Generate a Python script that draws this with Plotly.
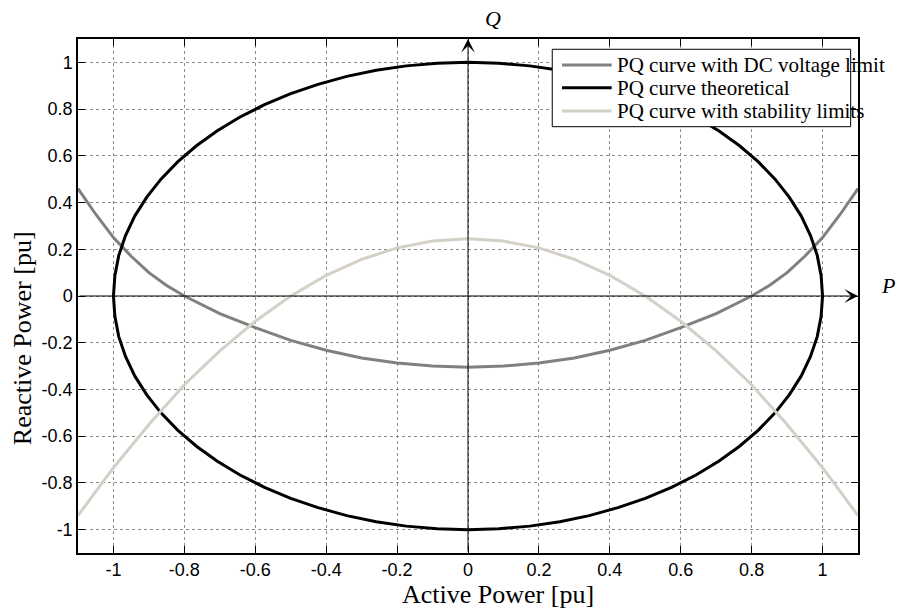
import plotly.graph_objects as go

# ---- data ----
tick_vals = [-1.0, -0.8, -0.6, -0.4, -0.2, 0.0, 0.2, 0.4, 0.6, 0.8, 1.0]
tick_text = ["-1", "-0.8", "-0.6", "-0.4", "-0.2", "0", "0.2", "0.4", "0.6", "0.8", "1"]

# PQ curve with DC voltage limit
P_dc = [-1.1, -1.05, -1.0, -0.95, -0.9, -0.85, -0.8, -0.7, -0.6, -0.5, -0.4, -0.3, -0.2, -0.1, 0.0,
        0.1, 0.2, 0.3, 0.4, 0.5, 0.6, 0.7, 0.8, 0.85, 0.9, 0.95, 1.0, 1.05, 1.1]
Q_dc = [0.46, 0.35, 0.25, 0.17, 0.10, 0.045, 0.0, -0.075, -0.135, -0.19, -0.232, -0.265, -0.287, -0.30, -0.305,
        -0.30, -0.287, -0.265, -0.232, -0.19, -0.135, -0.075, 0.0, 0.045, 0.10, 0.17, 0.25, 0.35, 0.46]

# PQ curve theoretical (unit circle)
P_th = [1.0, 0.996, 0.985, 0.966, 0.94, 0.906, 0.866, 0.819, 0.766, 0.707, 0.643, 0.574, 0.5, 0.423,
        0.342, 0.259, 0.174, 0.087, 0.0, -0.087, -0.174, -0.259, -0.342, -0.423, -0.5, -0.574, -0.643,
        -0.707, -0.766, -0.819, -0.866, -0.906, -0.94, -0.966, -0.985, -0.996, -1.0,
        -0.996, -0.985, -0.966, -0.94, -0.906, -0.866, -0.819, -0.766, -0.707, -0.643, -0.574, -0.5,
        -0.423, -0.342, -0.259, -0.174, -0.087, 0.0, 0.087, 0.174, 0.259, 0.342, 0.423, 0.5, 0.574,
        0.643, 0.707, 0.766, 0.819, 0.866, 0.906, 0.94, 0.966, 0.985, 0.996, 1.0]
Q_th = [0.0, 0.087, 0.174, 0.259, 0.342, 0.423, 0.5, 0.574, 0.643, 0.707, 0.766, 0.819, 0.866, 0.906,
        0.94, 0.966, 0.985, 0.996, 1.0, 0.996, 0.985, 0.966, 0.94, 0.906, 0.866, 0.819, 0.766,
        0.707, 0.643, 0.574, 0.5, 0.423, 0.342, 0.259, 0.174, 0.087, 0.0,
        -0.087, -0.174, -0.259, -0.342, -0.423, -0.5, -0.574, -0.643, -0.707, -0.766, -0.819, -0.866,
        -0.906, -0.94, -0.966, -0.985, -0.996, -1.0, -0.996, -0.985, -0.966, -0.94, -0.906, -0.866, -0.819,
        -0.766, -0.707, -0.643, -0.574, -0.5, -0.423, -0.342, -0.259, -0.174, -0.087, 0.0]

# PQ curve with stability limits
P_st = [-1.1, -1.0, -0.9, -0.8, -0.7, -0.6, -0.5, -0.4, -0.3, -0.2, -0.1, 0.0,
        0.1, 0.2, 0.3, 0.4, 0.5, 0.6, 0.7, 0.8, 0.9, 1.0, 1.1]
Q_st = [-0.94, -0.735, -0.55, -0.38, -0.235, -0.108, 0.0, 0.088, 0.157, 0.206, 0.235, 0.245,
        0.235, 0.206, 0.157, 0.088, 0.0, -0.108, -0.235, -0.38, -0.55, -0.735, -0.94]

names = ["PQ curve with DC voltage limit", "PQ curve theoretical", "PQ curve with stability limits"]
colors = ["#808080", "#000000", "#d4d0c8"]

SERIF = "Liberation Serif, Times New Roman, serif"

fig = go.Figure()
for (px, qy), name, col in zip([(P_dc, Q_dc), (P_th, Q_th), (P_st, Q_st)], names, colors):
    fig.add_trace(go.Scatter(x=px, y=qy, mode="lines", name=name, showlegend=False,
                             line=dict(color=col, width=3)))

axis_common = dict(
    range=[-1.1, 1.1], tickvals=tick_vals, ticktext=tick_text,
    showgrid=True, gridcolor="#8a8a8a", griddash="dot", gridwidth=1,
    zeroline=False, showline=True, linecolor="black", linewidth=1.5,
    mirror="ticks", ticks="inside", ticklen=7, tickcolor="black", tickwidth=1,
    tickfont=dict(family="Liberation Sans, Arial", size=18, color="black"),
)
fig.update_xaxes(**axis_common)
fig.update_yaxes(**axis_common)

# axes arrows P and Q
fig.add_annotation(x=1.1, y=0, ax=-1.1, ay=0, xref="x", yref="y", axref="x", ayref="y",
                   showarrow=True, arrowhead=3, arrowsize=2.3, arrowwidth=1, arrowcolor="black", text="")
fig.add_annotation(x=0, y=1.1, ax=0, ay=-1.1, xref="x", yref="y", axref="x", ayref="y",
                   showarrow=True, arrowhead=3, arrowsize=2.3, arrowwidth=1, arrowcolor="black", text="")
fig.add_annotation(x=1.0385, y=0.521, xref="paper", yref="paper", text="<i>P</i>", showarrow=False,
                   xanchor="center", yanchor="middle",
                   font=dict(family=SERIF, size=22, color="black"))
fig.add_annotation(x=0.532, y=1.039, xref="paper", yref="paper", text="<i>Q</i>", showarrow=False,
                   xanchor="center", yanchor="middle",
                   font=dict(family=SERIF, size=22, color="black"))

# axis titles
fig.add_annotation(x=0.538, y=-0.0817, xref="paper", yref="paper", text="Active Power [pu]",
                   showarrow=False, xanchor="center", yanchor="middle",
                   font=dict(family=SERIF, size=26, color="black"))
fig.add_annotation(x=-0.0718, y=0.418, xref="paper", yref="paper", text="Reactive Power [pu]",
                   showarrow=False, textangle=-90, xanchor="center", yanchor="middle",
                   font=dict(family=SERIF, size=26, color="black"))

# legend box (drawn like the reference, text running past the frame)
fig.add_shape(type="rect", xref="paper", yref="paper", x0=0.608, x1=0.9906, y0=0.8294, y1=0.980,
              line=dict(color="black", width=1), fillcolor="white", layer="above")
leg_rows = [0.9494, 0.9052, 0.8599]
for yy, name, col in zip(leg_rows, names, colors):
    fig.add_shape(type="line", xref="paper", yref="paper", x0=0.6205, x1=0.6842, y0=yy, y1=yy,
                  line=dict(color=col, width=3), layer="above")
    fig.add_annotation(x=0.6885, y=yy, xref="paper", yref="paper", text=name, showarrow=False,
                       xanchor="left", yanchor="middle",
                       font=dict(family=SERIF, size=21, color="black"))

fig.update_layout(
    width=898, height=612,
    margin=dict(l=78, r=40, t=39, b=59),
    plot_bgcolor="white", paper_bgcolor="white",
    showlegend=False,
)

fig.write_html("out.html", config={"displayModeBar": False},
               post_script="document.body.style.margin='0';document.body.style.overflow='hidden';")
